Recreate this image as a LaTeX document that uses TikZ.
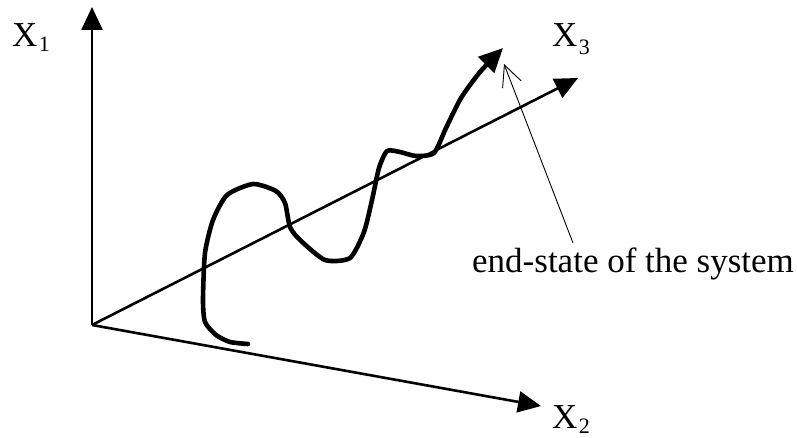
\documentclass[tikz,border=0pt]{standalone}
\usepackage{fontspec}
\setmainfont{Liberation Serif}
\usetikzlibrary{arrows.meta}
\begin{document}
\begin{tikzpicture}[x=1pt,y=-1pt,
  axis/.style={line width=2.6pt,-{Triangle[length=23pt,width=21pt]}},
  traj/.style={line width=4.6pt,line join=round,line cap=round,-{Triangle[length=24pt,width=22pt]}},
  pointer/.style={line width=0.9pt,-{Straight Barb[length=21pt,width=20pt,line width=0.9pt]}},
  lbl/.style={inner sep=0pt,font=\fontsize{35}{40}\selectfont},
  sub/.style={inner sep=0pt,font=\fontsize{22}{26}\selectfont}]
\useasboundingbox (0,0) rectangle (797,438);
\coordinate (O) at (92,325);
\coordinate (x1end) at (92,7);
\coordinate (x2end) at (541,406);
\coordinate (x3end) at (578,78);
\draw[axis] (O) -- (x1end);
\draw[axis] (O) -- (x2end);
\draw[axis] (O) -- (x3end);
% labels
\node[lbl,anchor=base west] (l1) at (12,47) {X};
\node[sub,anchor=base west] (s1) at ([xshift=1pt,yshift=-5pt]l1.base east) {1};
\node[lbl,anchor=base west] (l3) at (552,47) {X};
\node[sub,anchor=base west] (s3) at ([xshift=1pt,yshift=-8pt]l3.base east) {3};
\node[lbl,anchor=base west] (l2) at (552,428) {X};
\node[sub,anchor=base west] (s2) at ([xshift=1pt,yshift=-5pt]l2.base east) {2};
% trajectory
\draw[traj] plot[smooth,tension=0.4] coordinates {
 (248,344) (230,342) (216,335) (205,322) (203,300) (205,253) (213,220)
 (227,195) (253,184) (276,191) (285,203) (290,227) (300,240) (325,260)
 (350,258) (364,232) (372,200) (379,168) (387,151) (400,152) (416,156)
 (434,153) (446,128) (461,98) (480,72) (503,48)};
% annotation
\node[lbl,anchor=base west] (note) at (472,272) {end-state of the system};
\coordinate (ptrstart) at (573,243);
\coordinate (ptrend) at (504,64);
\draw[pointer] (ptrstart) -- (ptrend);
\end{tikzpicture}
\end{document}
